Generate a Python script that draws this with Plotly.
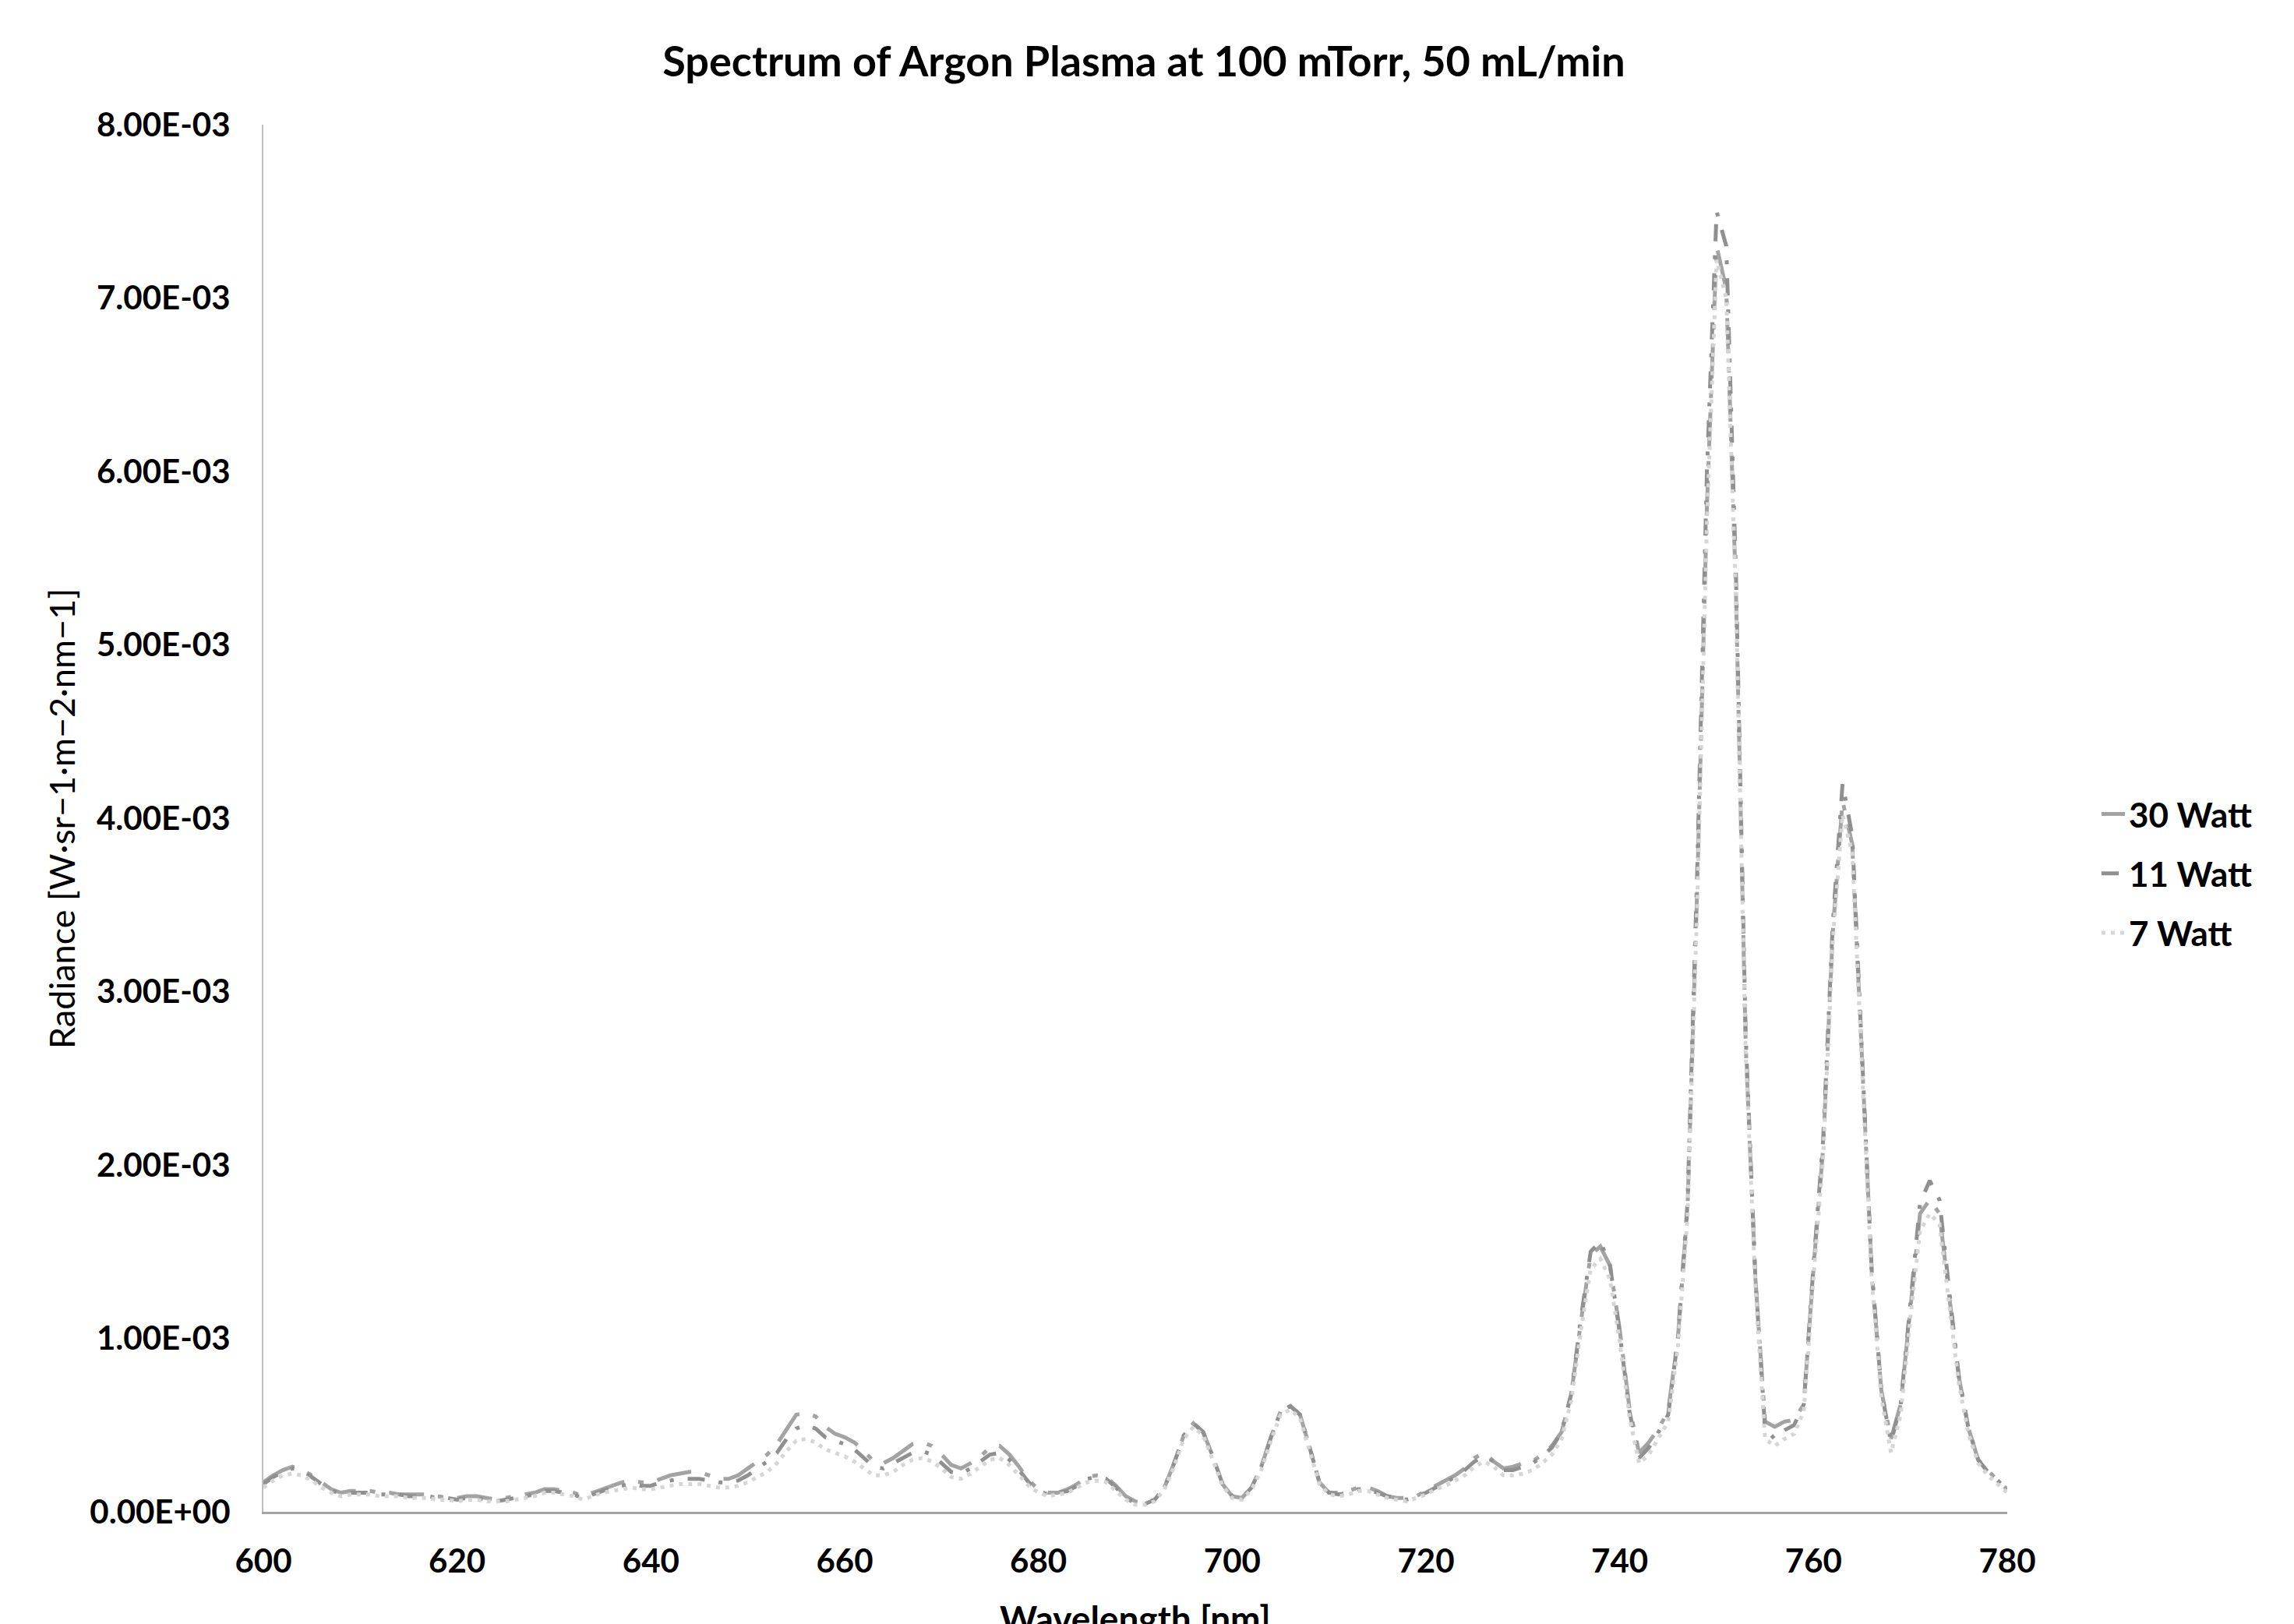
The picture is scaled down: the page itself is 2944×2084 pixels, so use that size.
import plotly.graph_objects as go

# ---------------- data ----------------
wavelength_nm = list(range(600, 781))

# radiance values in units of 1e-3 W·sr-1·m-2·nm-1, one per nm from 600 to 780
watt30_e3 = [
    0.17, 0.21, 0.24, 0.26, 0.24, 0.21, 0.17, 0.13, 0.11, 0.12,   # 600-609
    0.12, 0.12, 0.11, 0.11, 0.10, 0.10, 0.10, 0.10, 0.09, 0.08,   # 610-619
    0.08, 0.09, 0.09, 0.08, 0.07, 0.08, 0.09, 0.10, 0.11, 0.13,   # 620-629
    0.13, 0.12, 0.11, 0.09, 0.11, 0.13, 0.15, 0.17, 0.18, 0.17,   # 630-639
    0.17, 0.19, 0.21, 0.22, 0.23, 0.23, 0.21, 0.19, 0.19, 0.21,   # 640-649
    0.25, 0.29, 0.33, 0.39, 0.48, 0.56, 0.57, 0.55, 0.49, 0.45,   # 650-659
    0.43, 0.40, 0.35, 0.29, 0.28, 0.31, 0.35, 0.39, 0.40, 0.38,   # 660-669
    0.33, 0.27, 0.25, 0.28, 0.32, 0.37, 0.38, 0.33, 0.26, 0.18,   # 670-679
    0.13, 0.11, 0.11, 0.13, 0.16, 0.20, 0.21, 0.20, 0.15, 0.09,   # 680-689
    0.06, 0.05, 0.07, 0.14, 0.28, 0.44, 0.51, 0.46, 0.32, 0.16,   # 690-699
    0.09, 0.08, 0.14, 0.26, 0.43, 0.58, 0.61, 0.56, 0.37, 0.17,   # 700-709
    0.11, 0.11, 0.12, 0.14, 0.14, 0.12, 0.09, 0.08, 0.08, 0.09,   # 710-719
    0.12, 0.15, 0.18, 0.21, 0.25, 0.31, 0.34, 0.29, 0.25, 0.26,   # 720-729
    0.28, 0.29, 0.33, 0.38, 0.46, 0.68, 1.10, 1.48, 1.53, 1.42,   # 730-739
    1.05, 0.60, 0.34, 0.40, 0.48, 0.58, 1.00, 1.75, 3.60, 5.80,   # 740-749
    7.30, 7.05, 5.30, 2.70, 1.35, 0.52, 0.49, 0.52, 0.53, 0.62,   # 750-759
    1.40, 2.10, 3.35, 4.10, 3.85, 2.60, 1.40, 0.70, 0.42, 0.62,   # 760-769
    1.18, 1.72, 1.80, 1.72, 1.25, 0.78, 0.48, 0.30, 0.24, 0.18,   # 770-779
    0.13,                                                         # 780
]

watt11_e3 = [
    0.16, 0.20, 0.23, 0.25, 0.24, 0.20, 0.16, 0.12, 0.11, 0.11,
    0.11, 0.11, 0.10, 0.10, 0.10, 0.09, 0.09, 0.09, 0.08, 0.08,
    0.07, 0.08, 0.08, 0.07, 0.06, 0.07, 0.08, 0.09, 0.10, 0.12,
    0.12, 0.11, 0.10, 0.08, 0.10, 0.12, 0.14, 0.15, 0.16, 0.15,
    0.15, 0.17, 0.18, 0.19, 0.19, 0.19, 0.18, 0.17, 0.17, 0.18,
    0.21, 0.25, 0.29, 0.34, 0.42, 0.48, 0.50, 0.48, 0.43, 0.41,
    0.39, 0.36, 0.31, 0.26, 0.25, 0.28, 0.31, 0.34, 0.35, 0.33,
    0.28, 0.23, 0.22, 0.25, 0.29, 0.33, 0.34, 0.30, 0.24, 0.17,
    0.12, 0.10, 0.11, 0.12, 0.15, 0.19, 0.20, 0.19, 0.14, 0.08,
    0.05, 0.045, 0.07, 0.14, 0.28, 0.44, 0.51, 0.46, 0.32, 0.16,
    0.09, 0.08, 0.14, 0.26, 0.43, 0.58, 0.61, 0.56, 0.37, 0.17,
    0.11, 0.10, 0.11, 0.13, 0.13, 0.11, 0.09, 0.08, 0.07, 0.09,
    0.11, 0.14, 0.17, 0.20, 0.24, 0.29, 0.32, 0.29, 0.24, 0.24,
    0.26, 0.28, 0.32, 0.37, 0.46, 0.68, 1.12, 1.50, 1.56, 1.42,
    1.03, 0.58, 0.31, 0.37, 0.46, 0.56, 1.00, 1.78, 3.70, 6.00,
    7.50, 7.30, 5.40, 2.75, 1.35, 0.48, 0.42, 0.47, 0.50, 0.62,
    1.42, 2.15, 3.40, 4.20, 3.90, 2.62, 1.40, 0.70, 0.40, 0.62,
    1.20, 1.78, 1.91, 1.80, 1.28, 0.78, 0.48, 0.30, 0.23, 0.18,
    0.13,
]

watt7_e3 = [
    0.14, 0.18, 0.21, 0.22, 0.21, 0.18, 0.14, 0.11, 0.09, 0.10,
    0.10, 0.10, 0.09, 0.09, 0.09, 0.08, 0.08, 0.08, 0.07, 0.07,
    0.06, 0.07, 0.07, 0.06, 0.06, 0.06, 0.07, 0.08, 0.09, 0.11,
    0.11, 0.10, 0.09, 0.07, 0.09, 0.11, 0.12, 0.13, 0.14, 0.13,
    0.13, 0.14, 0.15, 0.16, 0.16, 0.16, 0.15, 0.14, 0.14, 0.15,
    0.17, 0.20, 0.23, 0.28, 0.35, 0.41, 0.42, 0.40, 0.36, 0.34,
    0.32, 0.29, 0.25, 0.21, 0.21, 0.23, 0.27, 0.30, 0.31, 0.29,
    0.25, 0.20, 0.19, 0.22, 0.26, 0.30, 0.31, 0.27, 0.21, 0.15,
    0.11, 0.09, 0.10, 0.11, 0.14, 0.17, 0.18, 0.17, 0.12, 0.07,
    0.04, 0.04, 0.06, 0.13, 0.26, 0.42, 0.49, 0.44, 0.30, 0.15,
    0.08, 0.07, 0.13, 0.24, 0.41, 0.56, 0.59, 0.54, 0.35, 0.16,
    0.10, 0.09, 0.10, 0.12, 0.12, 0.10, 0.08, 0.07, 0.06, 0.08,
    0.10, 0.13, 0.15, 0.18, 0.21, 0.26, 0.29, 0.26, 0.21, 0.21,
    0.22, 0.24, 0.28, 0.33, 0.42, 0.64, 1.05, 1.40, 1.46, 1.34,
    0.98, 0.55, 0.28, 0.33, 0.42, 0.52, 0.95, 1.70, 3.50, 5.70,
    7.22, 7.00, 5.25, 2.65, 1.30, 0.42, 0.38, 0.42, 0.45, 0.58,
    1.35, 2.05, 3.30, 4.02, 3.80, 2.55, 1.35, 0.66, 0.34, 0.56,
    1.12, 1.62, 1.72, 1.66, 1.20, 0.74, 0.45, 0.28, 0.21, 0.16,
    0.11,
]

series_names = ["30 Watt", "11 Watt", "7 Watt"]

y_tick_values = [0.000, 0.001, 0.002, 0.003, 0.004, 0.005, 0.006, 0.007, 0.008]
y_tick_labels = ["0.00E+00", "1.00E-03", "2.00E-03", "3.00E-03", "4.00E-03",
                 "5.00E-03", "6.00E-03", "7.00E-03", "8.00E-03"]
x_tick_values = [600, 620, 640, 660, 680, 700, 720, 740, 760, 780]
x_tick_labels = ["600", "620", "640", "660", "680", "700", "720", "740", "760", "780"]

title_text = "Spectrum of Argon Plasma at 100 mTorr, 50 mL/min"
x_title = "Wavelength [nm]"
y_title = "Radiance [W·sr−1·m−2·nm−1]"

# ---------------- styling ----------------
FONT = "Lato, 'Open Sans', sans-serif"
W, H = 2944, 2084
OFF = 8  # page body margin offset of the figure div
L, R, T, B = 338 - OFF, 368 + OFF, 160 - OFF, 144 + OFF
plot_w = W - L - R
plot_h = H - T - B
PLOT_BOTTOM = H - B  # in figure coords


def py(page_y):
    """page pixel y -> paper coordinate"""
    return (PLOT_BOTTOM - (page_y - OFF)) / plot_h


def px(page_x):
    """page pixel x -> paper coordinate"""
    return ((page_x - OFF) - L) / plot_w


styles = [
    dict(color="#A3A3A3", dash="45px,18px,7px,18px"),
    dict(color="#909090", dash="22px,18px,5px,18px"),
    dict(color="#D6D6D6", dash="5px,7px"),
]
all_series = [watt30_e3, watt11_e3, watt7_e3]

fig = go.Figure()
for name, vals, st in zip(series_names, all_series, styles):
    fig.add_trace(go.Scatter(
        x=wavelength_nm,
        y=[v * 1e-3 for v in vals],
        mode="lines",
        name="<b>" + name + "</b>",
        legendgroup=name,
        line=dict(color=st["color"], width=5, dash=st["dash"]),
        hoverinfo="skip",
    ))

fig.update_layout(
    width=W, height=H,
    margin=dict(l=L, r=R, t=T, b=B, autoexpand=False),
    paper_bgcolor="white",
    plot_bgcolor="white",
    font=dict(family=FONT, color="black"),
    title=dict(
        text="<b>" + title_text + "</b>",
        font=dict(family=FONT, size=54, color="black"),
        x=(1468 - OFF) / W, xref="container", xanchor="center",
        y=1 - (79 - OFF) / H, yref="container", yanchor="middle",
    ),
    showlegend=True,
    legend=dict(
        x=px(2692), xanchor="left",
        y=py(1121), yanchor="middle",
        font=dict(family=FONT, size=44, color="black"),
        tracegroupgap=16,
        bgcolor="rgba(0,0,0,0)",
    ),
)

fig.update_xaxes(
    range=[600, 780],
    tickmode="array", tickvals=x_tick_values, ticktext=["<b>%s</b>" % t for t in x_tick_labels],
    tickfont=dict(family=FONT, size=42, color="black"),
    ticks="", ticklabelstandoff=25,
    showgrid=False, zeroline=False,
    showline=True, linecolor="#A3A3A3", linewidth=3,
    automargin=False,
)
fig.update_yaxes(
    range=[0, 0.008],
    tickmode="array", tickvals=y_tick_values, ticktext=["<b>%s</b>" % t for t in y_tick_labels],
    tickfont=dict(family=FONT, size=42, color="black"),
    ticks="", ticklabelstandoff=32,
    showgrid=False, zeroline=False,
    showline=True, linecolor="#BFBFBF", linewidth=2,
    automargin=False,
)

# axis titles as annotations (x title is partly cut by the page edge, like the reference)
fig.add_annotation(
    text="<b>" + x_title + "</b>", xref="paper", yref="paper",
    x=px(1457), y=py(2047),
    xanchor="center", yanchor="top", showarrow=False,
    font=dict(family=FONT, size=46, color="black"),
)
fig.add_annotation(
    text=y_title, xref="paper", yref="paper",
    x=px(79), y=py(1051),
    xanchor="center", yanchor="middle", textangle=-90, showarrow=False,
    font=dict(family=FONT, size=45, color="black"),
)

fig.write_html("out.html")
